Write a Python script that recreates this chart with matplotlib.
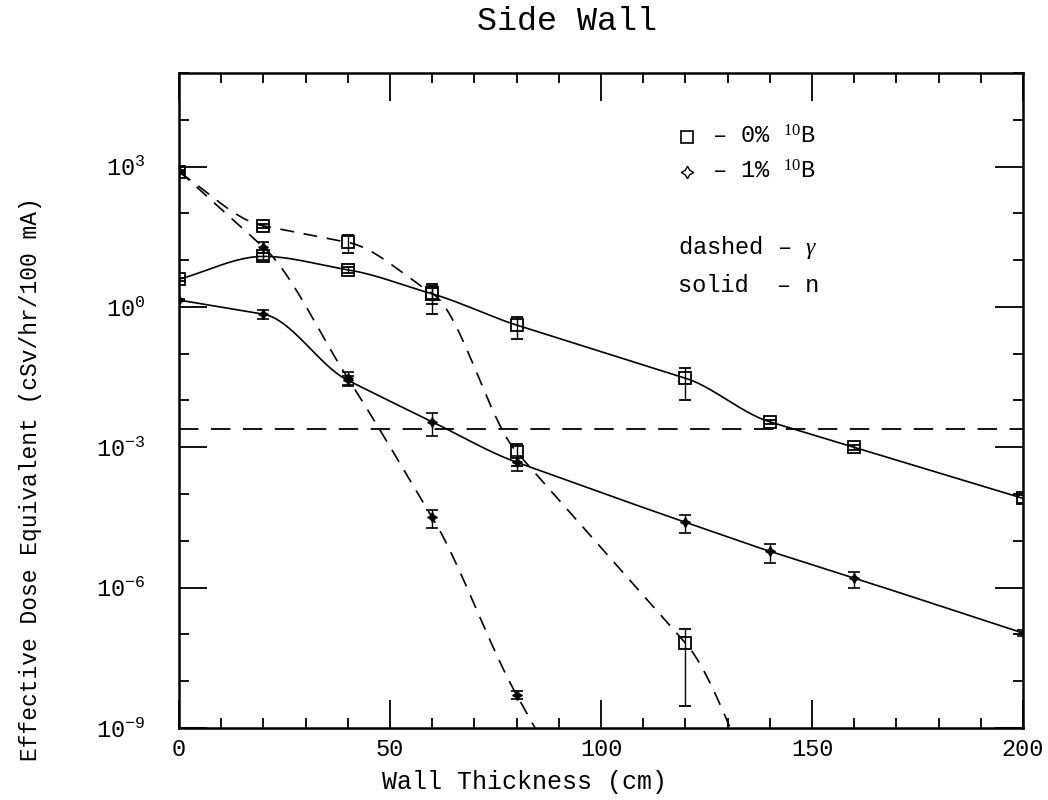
import matplotlib
matplotlib.use("Agg")
import matplotlib.pyplot as plt
import numpy as np

plt.rcParams["font.family"] = ["Liberation Mono", "DejaVu Sans Mono"]
plt.rcParams["mathtext.fontset"] = "custom"
plt.rcParams["mathtext.rm"] = "Liberation Serif"
plt.rcParams["mathtext.it"] = "Liberation Serif:italic"
plt.rcParams["lines.scale_dashes"] = False

# wall thickness (cm) and dose values
x_b0_n = [0, 20, 40, 60, 80, 120, 140, 160, 200]
y_b0_n = [3.9, 12.0, 6.2, 1.9, 0.41, 0.030, 3.5e-3, 1.0e-3, 8.1e-5]
e_b0_n = [0.3, 2.0, 0.8, 1.2, 0.2, 0.020, 4e-4, 1.2e-4, 1.5e-5]

x_b0_g = [0, 20, 40, 60, 80, 120, 140]
y_b0_g = [760, 54, 24, 1.95, 7.9e-4, 6.6e-8, 1e-11]
e_b0_g = [60, 5, 10, 0.8, 4e-4, 6.3e-8, 0]

x_b1_n = [0, 20, 40, 60, 80, 120, 140, 160, 200]
y_b1_n = [1.4, 0.7, 0.027, 3.5e-3, 4.8e-4, 2.5e-5, 6.0e-6, 1.6e-6, 1.07e-7]
e_b1_n = [0.05, 0.15, 0.006, 1.8e-3, 1.7e-4, 1.0e-5, 2.7e-6, 0.6e-6, 1.5e-8]

x_b1_g = [0, 20, 40, 60, 80, 100]
y_b1_g = [800, 19, 0.03, 3.2e-5, 5.1e-9, 3e-12]
e_b1_g = [40, 5, 0.01, 1.3e-5, 1.0e-9, 0]

limit = 2.5e-3

ytick_pow = [-9, -6, -3, 0, 3]


def smooth(x, y, n=600):
    """ cubic hermite curve through the points (log space), slope at each
    point is the flatter of the two neighbouring segments """
    x = np.asarray(x, float)
    y = np.log10(np.asarray(y, float))
    k = len(x)
    h = np.diff(x)
    d = np.diff(y) / h
    m = np.zeros(k)
    m[0], m[-1] = d[0], d[-1]
    for i in range(1, k - 1):
        if d[i - 1] * d[i] > 0:
            m[i] = d[i - 1] if abs(d[i - 1]) < abs(d[i]) else d[i]
    xs = np.linspace(x[0], x[-1], n)
    j = np.clip(np.searchsorted(x, xs) - 1, 0, k - 2)
    t = (xs - x[j]) / h[j]
    ys = (2 * t**3 - 3 * t**2 + 1) * y[j] + (t**3 - 2 * t**2 + t) * h[j] * m[j] \
        + (-2 * t**3 + 3 * t**2) * y[j + 1] + (t**3 - t**2) * h[j] * m[j + 1]
    return xs, 10**ys


fig = plt.figure(figsize=(10.48, 8), dpi=100)
ax = fig.add_axes([0.1708, 0.09, 0.8053, 0.8188])

dash = (0, (10, 7))
for xx, yy, style in [(x_b0_n, y_b0_n, "-"), (x_b1_n, y_b1_n, "-"),
                      (x_b0_g, y_b0_g, dash), (x_b1_g, y_b1_g, dash)]:
    xs, ys = smooth(xx, yy)
    ax.plot(xs, ys, color="black", lw=1.2, linestyle=style)

ax.axhline(limit, color="black", lw=1.3, linestyle=(0, (14, 9)))

for xx, yy, ee in [(x_b0_n, y_b0_n, e_b0_n), (x_b0_g, y_b0_g, e_b0_g)]:
    ax.errorbar(xx, yy, yerr=ee, fmt="s", ms=9, mfc="none", mec="black", mew=1.3,
                ecolor="black", elinewidth=1.0, capsize=4.5, capthick=1.2)
for xx, yy, ee in [(x_b1_n, y_b1_n, e_b1_n), (x_b1_g, y_b1_g, e_b1_g)]:
    ax.errorbar(xx, yy, yerr=ee, fmt="none", ecolor="black", elinewidth=1.0,
                capsize=4.5, capthick=1.2)
    ax.plot(xx, yy, linestyle="none", marker=(4, 1, 0), ms=7, color="black")

ax.set_xlim(0, 200)
ax.set_yscale("log")
ax.set_ylim(1e-9, 1e5)

ax.set_xticks([0, 50, 100, 150, 200])
ax.set_xticks(np.arange(0, 201, 10), minor=True)
ax.set_yticks([10.0**p for p in ytick_pow])
ax.set_yticklabels([r"$\mathregular{10^{%d}}$" % p for p in ytick_pow])
ax.set_yticks([10.0**p for p in range(-9, 6) if p not in ytick_pow], minor=True)
ax.yaxis.set_minor_formatter(matplotlib.ticker.NullFormatter())

ax.tick_params(which="both", direction="in", top=True, right=True, width=1.3)
ax.tick_params(which="major", length=20)
ax.tick_params(which="minor", length=7)
ax.tick_params(axis="x", labelsize=17, pad=7)
ax.tick_params(axis="y", labelsize=17, pad=24)
for s in ax.spines.values():
    s.set_linewidth(1.8)

ax.set_xlabel("Wall Thickness (cm)", fontsize=18, va="center")
ax.xaxis.set_label_coords(0.409, -0.082)
ax.set_ylabel("Effective Dose Equivalent (cSv/hr/100 mA)", fontsize=16.5, va="center")
ax.yaxis.set_label_coords(-0.1765, 0.38)
fig.text(0.541, 0.973, "Side Wall", fontsize=24, ha="center", va="center")

# legend drawn as text, the way the original has it
ax.plot([0.602], [0.902], transform=ax.transAxes, marker="s", ms=8, mfc="none",
        mec="black", mew=1.2, linestyle="none", clip_on=False)
ax.plot([0.602], [0.849], transform=ax.transAxes, marker=(4, 1, 0), ms=9,
        mfc="white", mec="black", mew=1.0, linestyle="none", clip_on=False)
ax.text(0.632, 0.902, "– 0% $^{10}$B", transform=ax.transAxes, fontsize=17, va="center")
ax.text(0.632, 0.849, "– 1% $^{10}$B", transform=ax.transAxes, fontsize=17, va="center")
ax.text(0.591, 0.733, "dashed – $\\gamma$", transform=ax.transAxes, fontsize=17, va="center")
ax.text(0.591, 0.675, "solid  – n", transform=ax.transAxes, fontsize=17, va="center")

fig.savefig("out.png", dpi=100)
